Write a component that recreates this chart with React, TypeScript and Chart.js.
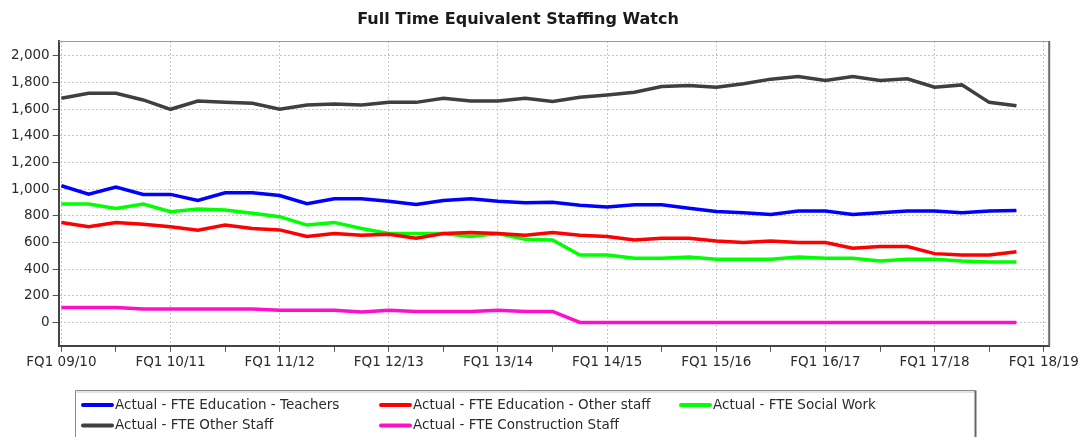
import React, { useEffect, useRef } from 'react';
import { Chart, registerables } from 'chart.js';

Chart.register(...registerables);

const TITLE = 'Full Time Equivalent Staffing Watch';

// one label per financial year (every 4 quarters)
const xTickLabels = [
  'FQ1 09/10', 'FQ1 10/11', 'FQ1 11/12', 'FQ1 12/13', 'FQ1 13/14',
  'FQ1 14/15', 'FQ1 15/16', 'FQ1 16/17', 'FQ1 17/18', 'FQ1 18/19',
];
// tick marks every 2 quarters
const xTickIndices = [0, 2, 4, 6, 8, 10, 12, 14, 16, 18, 20, 22, 24, 26, 28, 30, 32, 34, 36];
const yTickValues = [0, 200, 400, 600, 800, 1000, 1200, 1400, 1600, 1800, 2000];

const seriesNames = [
  'Actual - FTE Education - Teachers',
  'Actual - FTE Education - Other staff',
  'Actual - FTE Social Work',
  'Actual - FTE Other Staff',
  'Actual - FTE Construction Staff',
];
const seriesColors = ['#0000ff', '#ff0000', '#00ff00', '#3f3f3f', '#ff10c8'];

const teachers = [1025, 962, 1015, 960, 960, 915, 972, 972, 952, 890, 928, 928, 908, 885, 915, 928, 908, 898, 902, 878, 865, 882, 882, 857, 832, 822, 810, 835, 835, 810, 822, 835, 835, 822, 835, 840];
const educationOther = [750, 717, 750, 737, 717, 692, 730, 704, 694, 644, 667, 654, 662, 632, 667, 674, 667, 654, 674, 654, 644, 619, 632, 632, 611, 599, 611, 599, 599, 556, 569, 569, 516, 506, 506, 530];
const socialWork = [888, 888, 855, 888, 830, 850, 843, 818, 793, 730, 750, 704, 667, 667, 667, 644, 667, 624, 619, 506, 506, 481, 481, 491, 473, 473, 473, 491, 481, 481, 460, 473, 473, 460, 453, 453];
const otherStaff = [1681, 1718, 1718, 1668, 1598, 1660, 1650, 1643, 1598, 1630, 1638, 1630, 1650, 1650, 1681, 1660, 1660, 1681, 1657, 1688, 1706, 1726, 1769, 1776, 1764, 1789, 1824, 1844, 1814, 1844, 1814, 1827, 1764, 1781, 1650, 1625];
const construction = [113, 113, 113, 101, 101, 101, 101, 101, 91, 91, 91, 78, 91, 83, 83, 83, 91, 83, 83, 0, 0, 0, 0, 0, 0, 0, 0, 0, 0, 0, 0, 0, 0, 0, 0, 0];

const seriesValues = [teachers, educationOther, socialWork, otherStaff, construction];

const FONT = '"DejaVu Sans", sans-serif';
const TEXT = '#2a2a33';

const decorPlugin = {
  id: 'decor',
  beforeDraw(chart: any) {
    const { ctx, width, height } = chart;
    ctx.save();
    ctx.fillStyle = '#ffffff';
    ctx.fillRect(0, 0, width, height);
    ctx.restore();
  },
  afterDraw(chart: any) {
    const { ctx, chartArea: ca } = chart;
    ctx.save();
    // title
    ctx.font = `bold 16px ${FONT}`;
    ctx.fillStyle = '#1a1a1a';
    ctx.textAlign = 'center';
    ctx.textBaseline = 'middle';
    ctx.fillText(TITLE, 518, 20);

    // plot frame top / right
    ctx.strokeStyle = '#9a9a9a';
    ctx.lineWidth = 1;
    ctx.beginPath();
    ctx.moveTo(ca.left, ca.top + 0.5);
    ctx.lineTo(ca.right, ca.top + 0.5);
    ctx.stroke();
    ctx.strokeStyle = '#6a6a6a';
    ctx.lineWidth = 2;
    ctx.beginPath();
    ctx.moveTo(ca.right, ca.top);
    ctx.lineTo(ca.right, ca.bottom);
    ctx.stroke();

    // legend
    const boxL = 75.5, boxT = 390.5, boxR = 975.5;
    ctx.strokeStyle = '#8c8c8c';
    ctx.lineWidth = 1;
    ctx.beginPath();
    ctx.moveTo(boxL, chart.height + 2);
    ctx.lineTo(boxL, boxT);
    ctx.lineTo(boxR, boxT);
    ctx.stroke();
    ctx.strokeStyle = '#c8c8c8';
    ctx.beginPath();
    ctx.moveTo(boxL + 1, boxT + 1.5);
    ctx.lineTo(boxR - 1, boxT + 1.5);
    ctx.stroke();
    ctx.strokeStyle = '#666666';
    ctx.lineWidth = 2;
    ctx.beginPath();
    ctx.moveTo(boxR, boxT);
    ctx.lineTo(boxR, chart.height + 2);
    ctx.stroke();

    const colX = [82, 380, 680];
    const rowY = [405, 425.5];
    ctx.font = `13.5px ${FONT}`;
    ctx.textAlign = 'left';
    ctx.textBaseline = 'middle';
    chart.data.datasets.forEach((ds: any, i: number) => {
      const x = colX[i % 3];
      const y = rowY[Math.floor(i / 3)];
      ctx.strokeStyle = ds.borderColor;
      ctx.lineWidth = 4;
      ctx.lineCap = 'round';
      ctx.beginPath();
      ctx.moveTo(x + 1, y);
      ctx.lineTo(x + 30, y);
      ctx.stroke();
      ctx.fillStyle = TEXT;
      ctx.fillText(ds.label, x + 33, y);
    });
    ctx.restore();
  },
};

export default function App() {
  const ref = useRef<HTMLCanvasElement>(null);

  useEffect(() => {
    if (!ref.current) return;
    const datasets = seriesNames.map((name, i) => ({
      label: name,
      data: seriesValues[i].map((v, idx) => ({ x: idx, y: v })),
      borderColor: seriesColors[i],
      backgroundColor: seriesColors[i],
      borderWidth: 3.5,
      pointRadius: 0,
      tension: 0,
      fill: false,
    }));

    const chart = new Chart(ref.current, {
      type: 'line',
      data: { datasets },
      plugins: [decorPlugin],
      options: {
        responsive: false,
        animation: false,
        layout: { padding: { top: 41, left: 8, right: 29, bottom: 63 } },
        plugins: {
          legend: { display: false },
          title: { display: false },
          tooltip: { enabled: false },
        },
        scales: {
          x: {
            type: 'linear',
            min: -0.1,
            max: 36.2,
            afterBuildTicks: (scale: any) => {
              scale.ticks = xTickIndices.map((v) => ({ value: v }));
            },
            ticks: {
              autoSkip: false,
              maxRotation: 0,
              minRotation: 0,
              padding: 3,
              color: TEXT,
              font: { family: FONT, size: 13.5 },
              callback: (v: any) => (Number(v) % 4 === 0 ? xTickLabels[Number(v) / 4] : ''),
            },
            grid: {
              color: (c: any) => (c.tick && c.tick.value % 4 === 0 ? '#c6c6c6' : 'rgba(0,0,0,0)'),
              tickColor: '#555555',
              tickLength: 6,
              lineWidth: 1,
              drawOnChartArea: true,
            },
            border: { display: true, color: '#444444', width: 2, dash: [2, 2] },
          },
          y: {
            type: 'linear',
            min: -175,
            max: 2110,
            afterBuildTicks: (scale: any) => {
              scale.ticks = yTickValues.map((v) => ({ value: v }));
            },
            ticks: {
              padding: 3,
              color: TEXT,
              font: { family: FONT, size: 13.5 },
              callback: (v: any) => Number(v).toLocaleString('en-US'),
            },
            grid: {
              color: '#c6c6c6',
              tickColor: '#555555',
              tickLength: 6,
              lineWidth: 1,
            },
            border: { display: true, color: '#444444', width: 2, dash: [2, 2] },
          },
        },
      },
    } as any);
    return () => chart.destroy();
  }, []);

  return (
    <div style={{ position: 'fixed', left: 0, top: 0, width: 1082, height: 437, background: '#ffffff' }}>
      <canvas ref={ref} width={1082} height={437} style={{ display: 'block', width: 1082, height: 437 }} />
    </div>
  );
}
